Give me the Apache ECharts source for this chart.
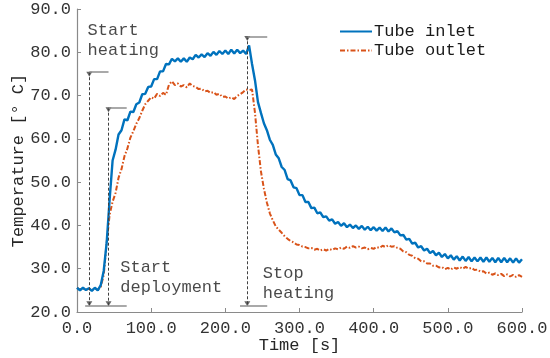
<!DOCTYPE html>
<html>
<head>
<meta charset="utf-8">
<script src="https://cdn.jsdelivr.net/npm/echarts@6/dist/echarts.min.js"></script>
<style>html,body{margin:0;padding:0;background:#fff;}#main{width:550px;height:358px;}</style>
</head>
<body>
<div id="main"></div>
<script>
const timeS = [0,4,8,12,16,20,24,28,32,36,40,44,48,52,56,60,64,68,72,76,80,84,88,92,96,100,104,108,112,116,120,124,128,132,136,140,144,148,152,156,160,164,168,172,176,180,184,188,192,196,200,204,208,212,216,220,224,228,232,236,240,244,248,252,256,260,264,268,272,276,280,284,288,292,296,300,304,308,312,316,320,324,328,332,336,340,344,348,352,356,360,364,368,372,376,380,384,388,392,396,400,404,408,412,416,420,424,428,432,436,440,444,448,452,456,460,464,468,472,476,480,484,488,492,496,500,504,508,512,516,520,524,528,532,536,540,544,548,552,556,560,564,568,572,576,580,584,588,592,596,600];

const tubeInlet = [25.6,25.0,25.6,25.1,25.5,24.9,25.6,25.0,26.2,29.5,36.0,46.0,55.0,57.5,61.0,62.0,64.5,64.3,66.3,66.2,68.0,68.4,70.3,70.4,72.0,72.1,73.8,73.8,75.6,75.6,77.3,77.2,78.5,77.9,78.6,77.8,78.6,77.8,78.8,78.4,79.4,78.8,79.5,78.9,79.8,79.2,80.1,79.4,80.3,79.6,80.4,79.6,80.6,79.7,80.6,79.8,80.4,79.6,81.6,77.3,73.5,68.5,66.0,63.6,62.0,59.8,58.6,56.4,55.5,53.5,52.8,50.7,50.4,48.8,48.6,47.0,47.0,45.4,45.4,44.0,44.1,42.8,43.0,41.9,42.1,41.1,41.4,40.4,40.8,39.9,40.5,39.6,40.2,39.4,40.0,39.2,39.9,39.0,39.7,38.9,39.6,38.8,39.5,38.7,39.5,38.6,39.3,38.4,38.7,37.7,37.8,36.7,36.9,35.8,36.0,34.9,35.2,34.2,34.6,33.6,34.1,33.1,33.7,32.7,33.4,32.4,33.1,32.1,32.9,31.9,32.8,31.8,32.7,31.7,32.6,31.7,32.6,31.6,32.6,31.6,32.5,31.5,32.5,31.5,32.5,31.5,32.4,31.4,32.4,31.4,32.2];

const tubeOutlet = [25.6,25.2,25.5,25.1,25.4,25.0,25.5,25.1,25.8,28.5,36.0,42.5,45.5,47.5,51.0,53.0,56.0,57.8,60.3,61.8,63.5,64.8,66.5,68.0,68.8,69.6,69.3,70.4,69.9,70.6,70.2,72.5,73.3,72.4,72.8,72.1,72.4,71.9,72.8,72.2,72.0,71.5,71.6,71.0,71.1,70.6,70.8,70.2,70.4,69.7,69.8,69.3,69.6,69.2,69.9,70.3,70.8,71.4,71.3,71.4,66.0,58.5,52.5,48.5,45.3,42.8,41.2,39.8,39.0,38.3,37.5,36.9,36.4,36.1,35.6,35.5,35.1,35.0,34.7,34.8,34.4,34.6,34.2,34.5,34.2,34.6,34.3,34.7,34.5,34.9,34.6,35.1,34.8,35.2,34.9,35.1,34.7,34.9,34.5,34.8,34.6,35.0,34.8,35.3,35.0,35.4,35.1,35.2,34.8,34.6,34.0,33.8,33.2,33.0,32.4,32.3,31.7,31.7,31.2,31.2,30.7,30.7,30.3,30.4,29.9,30.2,29.8,30.3,30.0,30.4,30.0,30.4,30.0,30.2,29.7,29.8,29.3,29.4,28.9,29.1,28.6,28.9,28.5,28.8,28.3,28.7,28.2,28.6,28.1,28.5,28.1];

const seriesNames = ['Tube inlet', 'Tube outlet'];
const xTicks = [0, 100, 200, 300, 400, 500, 600];
const yTicks = [20, 30, 40, 50, 60, 70, 80, 90];

// event markers: time, top level, cap end time, bottom cap start, bottom cap end
const eventTimes = [16.6, 42.5, 229.6];
const eventTops = [75.4, 67.2, 83.7];
const eventTopCapEnd = [42.5, 67.0, 256.5];
const eventBottom = 21.4;
const bottomCaps = [[11.0, 67.0], [219.8, 256.5]];

// annotation texts (anchor time, temperature of text top)
const noteTexts = ['Start\nheating', 'Start\ndeployment', 'Stop\nheating'];
const noteTimes = [14.3, 58.3, 250.5];
const noteTemps = [87.4, 32.6, 31.2];

const FONT = 'Liberation Mono';
const chart = echarts.init(document.getElementById('main'), null, {renderer: 'canvas'});

const markLines = [];
eventTimes.forEach((t, i) => {
  markLines.push([{coord: [t, eventTops[i]], lineStyle: {type: [3, 2], color: '#404040', width: 1}}, {coord: [t, eventBottom]}]);
  markLines.push([{coord: [t, eventTops[i]], lineStyle: {type: 'solid', color: '#8c8c8c', width: 1.5}}, {coord: [eventTopCapEnd[i], eventTops[i]]}]);
});
bottomCaps.forEach(c => {
  markLines.push([{coord: [c[0], eventBottom], lineStyle: {type: 'solid', color: '#8c8c8c', width: 1.5}}, {coord: [c[1], eventBottom]}]);
});

const triData = [];
eventTimes.forEach((t, i) => {
  triData.push([t, eventTops[i] - 0.5]);
  triData.push([t, eventBottom + 0.5]);
});

chart.setOption({
  animation: false,
  backgroundColor: '#ffffff',
  grid: {left: 77, right: 28, top: 9, bottom: 46, containLabel: false, outerBoundsMode: 'none'},
  legend: {
    data: seriesNames,
    orient: 'vertical',
    left: 334, top: 18,
    itemWidth: 32, itemHeight: 12, itemGap: 2,
    itemStyle: {opacity: 0},
    textStyle: {fontFamily: FONT, fontSize: 17, color: '#1a1a1a', padding: [0, 0, 0, -3]}
  },
  xAxis: {
    type: 'value', min: 0, max: 600, interval: 100,
    name: 'Time [s]', nameLocation: 'middle', nameGap: 25, nameMoveOverlap: false,
    nameTextStyle: {fontFamily: FONT, fontSize: 17, color: '#262626'},
    axisLine: {show: true, lineStyle: {color: '#8a8a8a', width: 1.2}},
    axisTick: {show: true, inside: true, length: 4, lineStyle: {color: '#8a8a8a'}},
    axisLabel: {fontFamily: FONT, fontSize: 17, color: '#333', margin: 8, formatter: v => xTicks.includes(v) ? v.toFixed(1) : ''},
    splitLine: {show: false}
  },
  yAxis: {
    type: 'value', min: 20, max: 90, interval: 10,
    name: 'Temperature [° C]', nameLocation: 'middle', nameGap: 50, nameMoveOverlap: false,
    nameTextStyle: {fontFamily: FONT, fontSize: 17, color: '#262626'},
    axisLine: {show: true, lineStyle: {color: '#8a8a8a', width: 1.2}},
    axisTick: {show: true, inside: true, length: 4, lineStyle: {color: '#8a8a8a'}},
    axisLabel: {fontFamily: FONT, fontSize: 17, color: '#333', margin: 6, formatter: v => yTicks.includes(v) ? v.toFixed(1) : ''},
    splitLine: {show: false}
  },
  series: [
    {
      name: seriesNames[0], type: 'line', showSymbol: false, symbol: 'none',
      data: timeS.map((t, i) => [t, tubeInlet[i]]),
      lineStyle: {color: '#0072BD', width: 2.4},
      itemStyle: {color: '#0072BD'}, z: 3
    },
    {
      name: seriesNames[1], type: 'line', showSymbol: false, symbol: 'none',
      data: timeS.map((t, i) => [t, tubeOutlet[i]]),
      lineStyle: {color: '#D95319', width: 2, type: [5, 2, 1.5, 2]},
      itemStyle: {color: '#D95319'}, z: 2
    },
    {
      name: 'markers', type: 'scatter', symbol: 'triangle', symbolRotate: 180, symbolSize: [6, 5],
      itemStyle: {color: '#404040'}, data: triData, z: 4, silent: true,
      markLine: {silent: true, symbol: ['none', 'none'], label: {show: false}, animation: false, data: markLines}
    },
    {
      name: 'notes', type: 'scatter', symbolSize: 0, silent: true,
      data: noteTexts.map((s, i) => [noteTimes[i], noteTemps[i], s]),
      label: {show: true, position: [0, 0], align: 'left', verticalAlign: 'top',
        formatter: p => p.data[2], fontFamily: FONT, fontSize: 17, lineHeight: 20, color: '#1a1a1a'}
    }
  ]
});
</script>
</body>
</html>
